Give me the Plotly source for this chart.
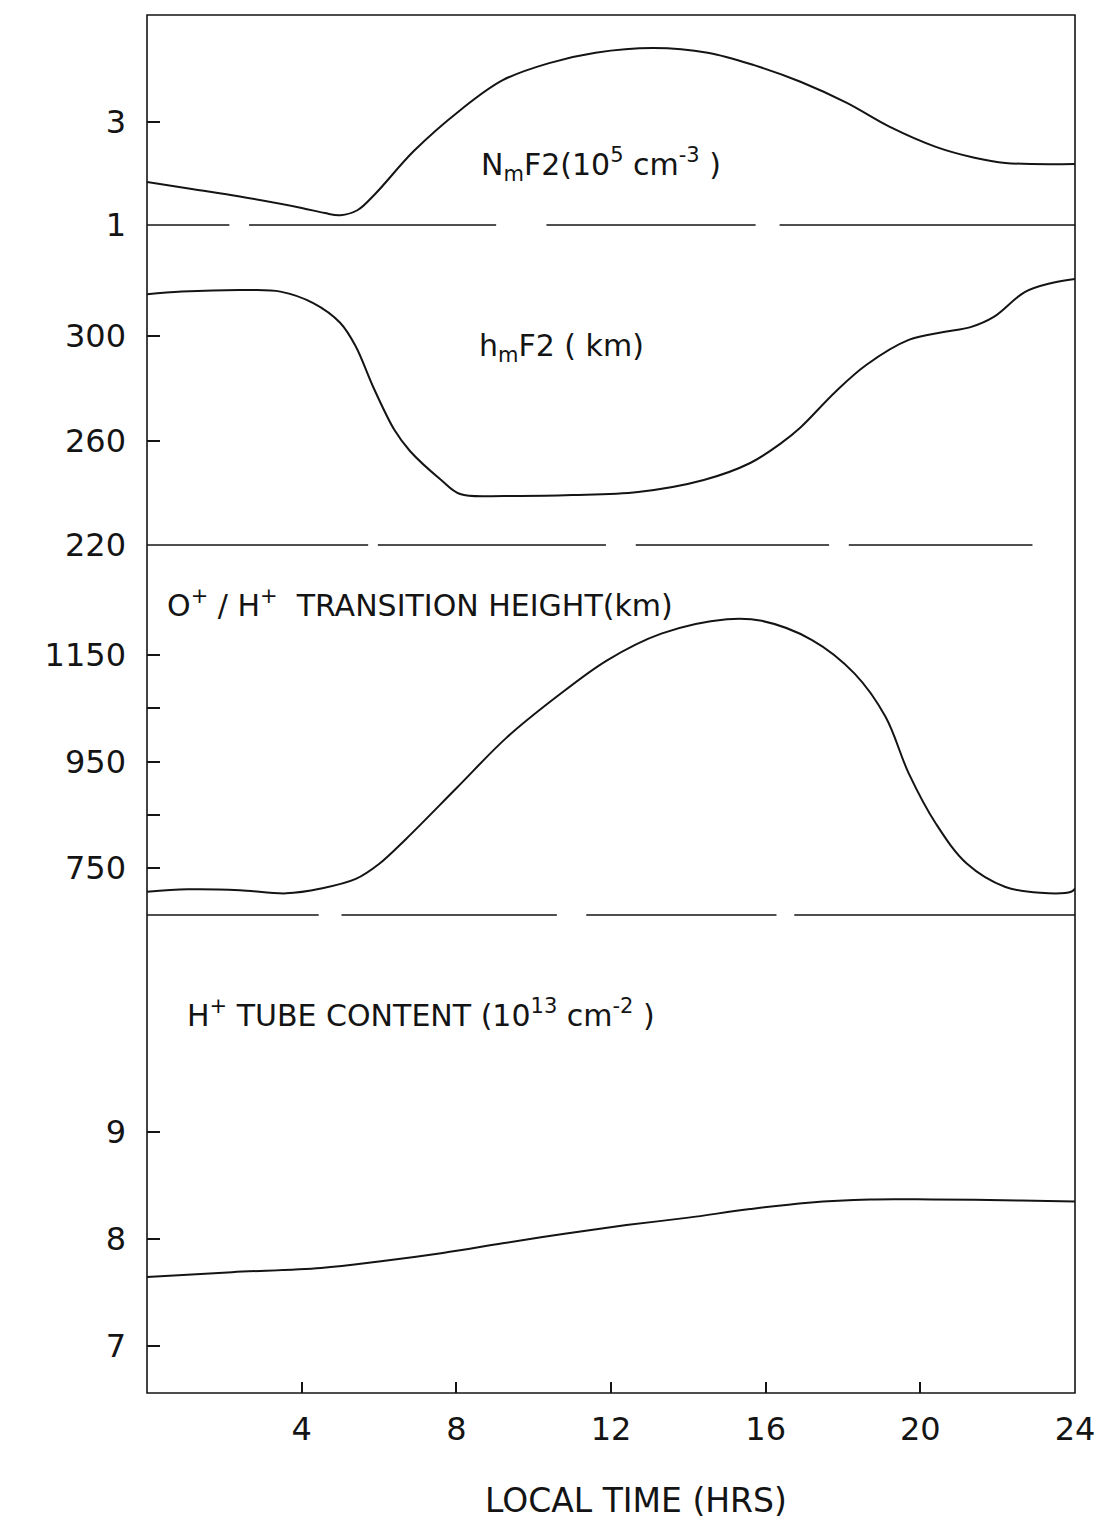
import plotly.graph_objects as go

# ---------------- data ----------------
t_nmf2 = [0, 1.2, 2.4, 4.0, 4.6, 5.0, 5.45, 5.9, 6.9, 8.1, 9.2, 10.4, 11.6, 13.1,
          14.5, 15.7, 16.9, 18.1, 19.2, 20.4, 21.4, 22.2, 24]
nmf2 = [1.83, 1.69, 1.55, 1.33, 1.23, 1.19, 1.29, 1.60, 2.43, 3.22, 3.80, 4.13, 4.33, 4.42,
        4.33, 4.09, 3.77, 3.36, 2.90, 2.51, 2.30, 2.20, 2.18]

t_hmf2 = [0, 0.9, 2.6, 3.45, 4.3, 5.0, 5.4, 5.85, 6.4, 6.8, 7.6, 8.1, 9.3, 11.0, 12.7,
          14.4, 15.6, 16.4, 16.9, 17.8, 18.6, 19.7, 20.6, 21.3, 21.9, 22.7, 23.4, 24]
hmf2 = [316, 317, 317.6, 317, 312.6, 305, 296, 280.5, 264, 256, 245, 239.5, 238.8, 239.1, 240.3,
        244.9, 251.4, 259, 265, 278.6, 288.9, 298.5, 301.5, 303.4, 307.3, 316.8, 320.3, 321.8]

t_trans = [0, 1.05, 2.4, 3.6, 4.5, 5.4, 6.0, 6.7, 8.0, 9.3, 10.6, 11.9, 13.3, 15.0, 15.9,
           17.2, 18.3, 19.1, 19.7, 20.4, 21.2, 22.2, 23.1, 23.9, 24]
trans = [706, 710.6, 709, 703, 712, 730, 758, 805, 900, 995, 1072, 1140, 1190, 1217, 1214,
         1178, 1115, 1034, 928, 834, 759, 715, 704, 706, 712]

t_tube = [0, 2.2, 4.5, 6.0, 7.65, 9.2, 10.8, 12.4, 14.0, 15.6, 17.1, 18.7, 20.3, 22.6, 24]
tube = [7.645, 7.69, 7.73, 7.79, 7.87, 7.96, 8.05, 8.13, 8.20, 8.28, 8.34, 8.37, 8.37, 8.36, 8.35]

x_ticks = [4, 8, 12, 16, 20, 24]
y1_ticks = [1, 3]
y2_ticks = [220, 260, 300]
y3_ticks = [750, 950, 1150]
y3_minor = [850, 1050]
y4_ticks = [7, 8, 9]

# ---------------- layout geometry ----------------
W, H = 1107, 1526
L, R, T, B = 147, 24, 15, 133
PW = W - L - R
PH = H - T - B
INK = "#141414"
FONT = "DejaVu Sans"


def px(xp):
    return (xp - L) / PW


def py(yp):
    return (H - B - yp) / PH


fig = go.Figure()
line = dict(color=INK, width=2, shape="spline", smoothing=1.0)
fig.add_trace(go.Scatter(x=t_nmf2, y=nmf2, xaxis="x", yaxis="y", mode="lines", line=line))
fig.add_trace(go.Scatter(x=t_hmf2, y=hmf2, xaxis="x", yaxis="y2", mode="lines", line=line))
fig.add_trace(go.Scatter(x=t_trans, y=trans, xaxis="x", yaxis="y3", mode="lines", line=line))
fig.add_trace(go.Scatter(x=t_tube, y=tube, xaxis="x", yaxis="y4", mode="lines", line=line))

yax = dict(anchor="x", showgrid=False, zeroline=False, showline=False, ticks="inside",
           ticklen=13, tickwidth=1.5, tickcolor=INK,
           tickfont=dict(family=FONT, size=32, color=INK), ticklabelstandoff=20)

fig.update_layout(
    width=W, height=H, margin=dict(l=L, r=R, t=T, b=B),
    paper_bgcolor="white", plot_bgcolor="white", showlegend=False,
    xaxis=dict(domain=[0, 1], anchor="y4", range=[0, 24], tickvals=x_ticks,
               showgrid=False, zeroline=False, showline=False, ticks="inside",
               ticklen=11, tickwidth=1.5, tickcolor=INK, ticklabelstandoff=14,
               tickfont=dict(family=FONT, size=32, color=INK)),
    yaxis=dict(domain=[py(225), 1], range=[1, 5.06], tickvals=y1_ticks, **yax),
    yaxis2=dict(domain=[py(545), py(225)], range=[220, 342.5], tickvals=y2_ticks, **yax),
    yaxis3=dict(domain=[py(915), py(545)], range=[662.4, 1356.2], tickvals=y3_ticks,
                minor=dict(tickvals=y3_minor, ticks="inside", ticklen=13, tickwidth=1.5,
                           tickcolor=INK, showgrid=False),
                **yax),
    yaxis4=dict(domain=[0, py(915)], range=[6.561, 11.028], tickvals=y4_ticks, **yax),
)

# frame
fig.add_shape(type="rect", xref="paper", yref="paper", x0=0, x1=1, y0=0, y1=1,
              line=dict(color=INK, width=1.6))

# dashed panel separators (segments in hours)
separators = [
    (225, [(0, 2.13), (2.64, 9.03), (10.33, 15.74), (16.36, 24)]),
    (545, [(0, 5.72), (5.97, 11.87), (12.64, 17.64), (18.15, 22.9)]),
    (915, [(0, 4.44), (5.03, 10.6), (11.36, 16.28), (16.74, 24)]),
]
for ypix, segs in separators:
    for a, b in segs:
        fig.add_shape(type="line", xref="x", yref="paper", x0=a, x1=b,
                      y0=py(ypix), y1=py(ypix), line=dict(color=INK, width=1.6))

ann_font = dict(family=FONT, size=30, color=INK)
annotations = [
    (482, 165, "N<sub>m</sub>F2(10<sup>5</sup> cm<sup>-3</sup> )"),
    (480, 347, "h<sub>m</sub>F2 ( km)"),
    (165, 603, "O<sup>+</sup> / H<sup>+</sup>  TRANSITION HEIGHT(km)"),
    (185, 1013, "H<sup>+</sup> TUBE CONTENT (10<sup>13</sup> cm<sup>-2</sup> )"),
]
for xp, yp, txt in annotations:
    fig.add_annotation(xref="paper", yref="paper", x=px(xp), y=py(yp), text=txt,
                       showarrow=False, xanchor="left", yanchor="middle", font=ann_font)

fig.add_annotation(xref="paper", yref="paper", x=px(640), y=py(1500),
                   text="LOCAL TIME (HRS)", showarrow=False, xanchor="center",
                   yanchor="middle", font=dict(family=FONT, size=33, color=INK))

fig.write_html("out.html")
